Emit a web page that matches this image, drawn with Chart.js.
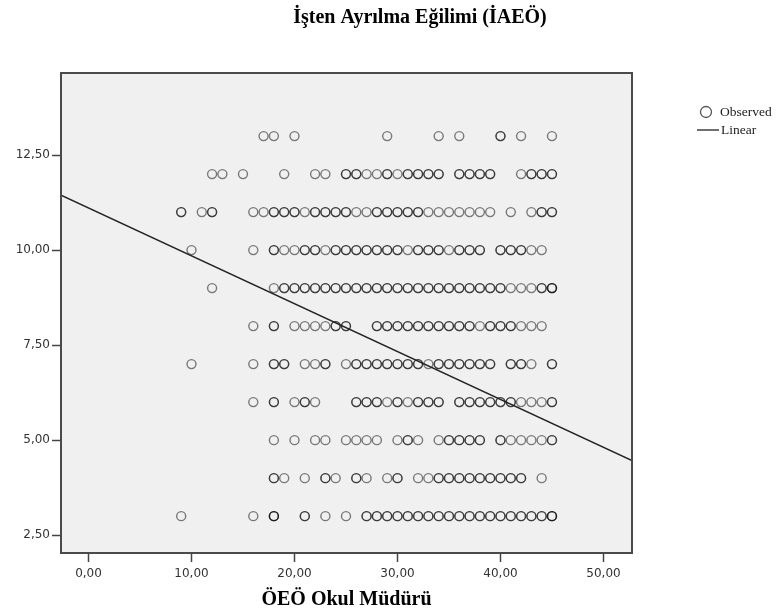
<!DOCTYPE html>
<html><head><meta charset="utf-8">
<script src="https://cdn.jsdelivr.net/npm/chart.js@4.4.1/dist/chart.umd.min.js"></script>
<style>html,body{margin:0;padding:0;background:#fff}#wrap{width:782px;height:612px;position:relative}</style>
</head><body><div id="wrap"><canvas id="c" width="782" height="612"></canvas></div>
<script>
const chartTitle = "İşten Ayrılma Eğilimi (İAEÖ)";
const xAxisTitle = "ÖEÖ Okul Müdürü";
const legendLabels = ["Observed", "Linear"];
const xTicks = [0, 10, 20, 30, 40, 50];
const yTicks = [2.5, 5, 7.5, 10, 12.5];
const xRange = [-2.67, 52.77];
const yRange = [2.03, 14.66];
// fitted line
const fitIntercept = 11.11;
const fitSlope = -0.126;

// observed y levels and x values on each level
const rowLevels = [13, 12, 11, 10, 9, 8, 7, 6, 5, 4, 3];
const rowX13 = [17,18,20,29,34,36,40,42,45];
const rowX12 = [12,13,15,19,22,23,25,26,27,28,29,30,31,32,33,34,36,37,38,39,42,43,44,45];
const rowX11 = [9,11,12,16,17,18,19,20,21,22,23,24,25,26,27,28,29,30,31,32,33,34,35,36,37,38,39,41,43,44,45];
const rowX10 = [10,16,18,19,20,21,22,23,24,25,26,27,28,29,30,31,32,33,34,35,36,37,38,40,41,42,43,44];
const rowX9  = [12,18,19,20,21,22,23,24,25,26,27,28,29,30,31,32,33,34,35,36,37,38,39,40,41,42,43,44,45];
const rowX8  = [16,18,20,21,22,23,24,25,28,29,30,31,32,33,34,35,36,37,38,39,40,41,42,43,44];
const rowX7  = [10,16,18,19,21,22,23,25,26,27,28,29,30,31,32,33,34,35,36,37,38,39,41,42,43,45];
const rowX6  = [16,18,20,21,22,26,27,28,29,30,31,32,33,34,36,37,38,39,40,41,42,43,44,45];
const rowX5  = [18,20,22,23,25,26,27,28,30,31,32,34,35,36,37,38,40,41,42,43,44,45];
const rowX4  = [18,19,21,23,24,26,27,29,30,32,33,34,35,36,37,38,39,40,41,42,44];
const rowX3  = [9,16,18,21,23,25,27,28,29,30,31,32,33,34,35,36,37,38,39,40,41,42,43,44,45];
// extra (overlapping) observations that make circles darker
const dupX13 = [40];
const dupX12 = [25,26,29,31,32,33,34,36,37,38,39,43,44,45];
const dupX11 = [9,12,18,19,20,22,23,24,25,28,29,30,31,32,44,45];
const dupX10 = [18,21,22,24,25,26,27,28,29,30,32,33,34,36,37,38,40,41,42];
const dupX9  = [19,20,21,22,23,24,25,26,27,28,29,30,31,32,33,34,35,36,37,38,39,40,44,45,45];
const dupX8  = [18,24,25,28,29,30,31,32,33,34,35,36,37,39,40,41];
const dupX7  = [18,19,23,26,27,28,29,30,31,32,34,35,36,37,38,39,41,42,45];
const dupX6  = [18,21,26,27,28,30,32,33,34,36,37,38,39,40,41,45];
const dupX5  = [31,35,36,37,38,40,45];
const dupX4  = [18,23,26,30,34,35,36,37,38,39,40,41,42];
const dupX3  = [18,18,21,27,28,29,30,31,32,33,34,35,36,37,38,39,40,41,42,43,44,45,45];

const rowsX = [rowX13,rowX12,rowX11,rowX10,rowX9,rowX8,rowX7,rowX6,rowX5,rowX4,rowX3];
const dupsX = [dupX13,dupX12,dupX11,dupX10,dupX9,dupX8,dupX7,dupX6,dupX5,dupX4,dupX3];

const observed = [];
rowLevels.forEach((y, i) => {
  rowsX[i].forEach(x => observed.push({x, y}));
  dupsX[i].forEach(x => observed.push({x, y}));
});
const fitLine = xRange.map(x => ({x, y: fitIntercept + fitSlope * x}));

const fmt = v => Number(v).toFixed(2).replace('.', ',');

const framePlugin = {
  id: 'frame',
  beforeDatasetsDraw(chart) {
    const {ctx, chartArea: a} = chart;
    ctx.save();
    ctx.fillStyle = '#f0f0f0';
    ctx.fillRect(a.left, a.top, a.right - a.left, a.bottom - a.top);
    ctx.restore();
  },
  afterDatasetsDraw(chart) {
    const {ctx, chartArea: a} = chart;
    ctx.save();
    ctx.strokeStyle = '#4a4a4a';
    ctx.lineWidth = 2;
    ctx.strokeRect(a.left, a.top, a.right - a.left, a.bottom - a.top);
    ctx.restore();
  },
  afterDraw(chart) {
    const {ctx} = chart;
    ctx.save();
    ctx.fillStyle = '#000';
    ctx.font = 'bold 20px "Liberation Serif"';
    ctx.textAlign = 'center';
    ctx.textBaseline = 'middle';
    ctx.fillText(chartTitle, 420, 18);
    // legend
    ctx.strokeStyle = '#555';
    ctx.lineWidth = 1.3;
    ctx.beginPath();
    ctx.arc(706, 112, 5.5, 0, Math.PI * 2);
    ctx.stroke();
    ctx.strokeStyle = '#222';
    ctx.beginPath();
    ctx.moveTo(697, 130); ctx.lineTo(719, 130);
    ctx.stroke();
    ctx.fillStyle = '#222';
    ctx.font = '13.5px "Liberation Serif"';
    ctx.textAlign = 'left';
    ctx.fillText(legendLabels[0], 720, 112);
    ctx.fillText(legendLabels[1], 721, 130);
    ctx.restore();
  }
};

new Chart(document.getElementById('c'), {
  type: 'scatter',
  data: {
    datasets: [
      {
        label: legendLabels[0],
        data: observed,
        pointStyle: 'circle',
        pointRadius: 4.5,
        pointBorderWidth: 1.4,
        pointBackgroundColor: 'rgba(0,0,0,0)',
        pointBorderColor: 'rgba(0,0,0,0.5)',
        order: 2
      },
      {
        type: 'line',
        label: legendLabels[1],
        data: fitLine,
        borderColor: '#222',
        borderWidth: 1.4,
        pointRadius: 0,
        fill: false,
        order: 1
      }
    ]
  },
  plugins: [framePlugin],
  options: {
    responsive: false,
    animation: false,
    events: [],
    layout: {padding: {left: 0, top: 73, right: 150, bottom: 0}},
    plugins: {legend: {display: false}, title: {display: false}, tooltip: {enabled: false}},
    scales: {
      x: {
        type: 'linear', min: xRange[0], max: xRange[1],
        afterBuildTicks: s => { s.ticks = xTicks.map(v => ({value: v})); },
        afterFit: s => { s.height = 59; },
        ticks: {callback: fmt, font: {family: 'DejaVu Sans', size: 12}, color: '#333', padding: 5, maxRotation: 0, autoSkip: false},
        grid: {drawOnChartArea: false, drawTicks: true, tickLength: 9, tickColor: '#444', tickWidth: 1.5},
        border: {display: false},
        title: {display: true, text: xAxisTitle, font: {family: 'Liberation Serif', size: 20, weight: 'bold'}, color: '#000', padding: {top: 0, bottom: 0}}
      },
      y: {
        type: 'linear', min: yRange[0], max: yRange[1],
        afterBuildTicks: s => { s.ticks = yTicks.map(v => ({value: v})); },
        afterFit: s => { s.width = 61; },
        ticks: {callback: fmt, font: {family: 'DejaVu Sans', size: 12}, color: '#333', padding: 2, autoSkip: false},
        grid: {drawOnChartArea: false, drawTicks: true, tickLength: 9, tickColor: '#444', tickWidth: 1.5},
        border: {display: false}
      }
    }
  }
});
</script></body></html>
